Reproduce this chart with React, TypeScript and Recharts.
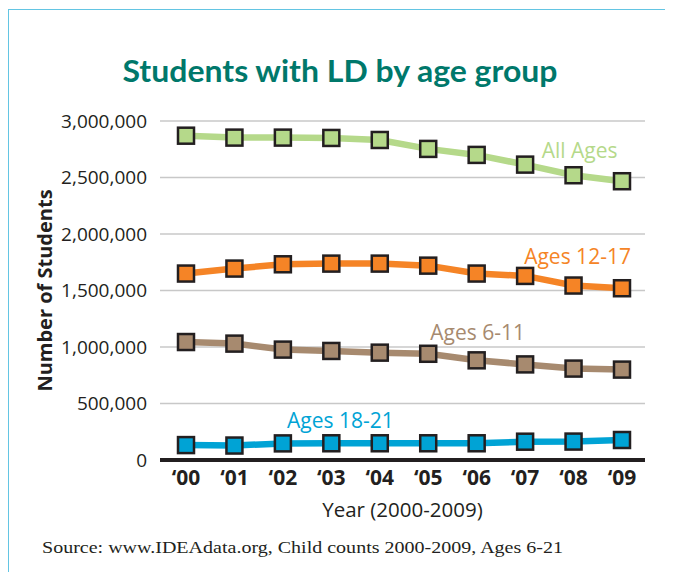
import React from 'react';
import { LineChart, Line, XAxis, YAxis, CartesianGrid, LabelList } from 'recharts';

const years = ['\u201800', '\u201801', '\u201802', '\u201803', '\u201804', '\u201805', '\u201806', '\u201807', '\u201808', '\u201809'];
const allAges = [2870000, 2853000, 2853000, 2850000, 2832000, 2753000, 2700000, 2614000, 2520000, 2467000];
const ages12to17 = [1650000, 1694000, 1732000, 1738000, 1738000, 1720000, 1650000, 1629000, 1544000, 1520000];
const ages6to11 = [1044000, 1030000, 977000, 965000, 950000, 940000, 882000, 846000, 809000, 800000];
const ages18to21 = [132000, 128000, 147000, 148000, 148000, 148000, 148000, 162000, 163000, 177000];
const yTicks = [0, 500000, 1000000, 1500000, 2000000, 2500000, 3000000];

const data = years.map((year, i) => ({
  year,
  all: allAges[i],
  a1217: ages12to17[i],
  a611: ages6to11[i],
  a1821: ages18to21[i],
}));

const GREEN = '#b5d98a';
const ORANGE = '#f58426';
const BROWN = '#a78a6f';
const BLUE = '#00a3d5';
const INK = '#231f20';
const SANS = '"Open Sans", Lato, sans-serif';

const squareDot = (color: string) => (p: any) => (
  <rect
    key={`dot-${p.index}`}
    x={p.cx - 8}
    y={p.cy - 8}
    width={16}
    height={16}
    fill={color}
    stroke={INK}
    strokeWidth={2.5}
  />
);

// name label drawn next to one chosen point of the series
const seriesName = (text: string, color: string, at: number, dx: number, dy: number) => (p: any) =>
  p.index === at ? (
    <text
      key={`name-${text}`}
      x={p.x + dx}
      y={p.y + dy}
      textAnchor="middle"
      dominantBaseline="central"
      fill={color}
      fontFamily={SANS}
      fontSize={21}
    >
      {text}
    </text>
  ) : null;

const fmt = (v: number) => v.toLocaleString('en-US');

export default function App() {
  return (
    <div style={{ position: 'relative', width: 664, height: 564, fontFamily: SANS }}>
      <div
        style={{
          position: 'absolute',
          left: 0,
          top: 1,
          width: 660,
          height: 563,
          borderTop: '1.5px solid #63c5e3',
          borderLeft: '1.5px solid #63c5e3',
          borderRight: '1.5px solid #63c5e3',
        }}
      />
      <svg width={664} height={564} style={{ position: 'absolute', left: 0, top: 0 }}>
        <text
          x={332}
          y={74}
          textAnchor="middle"
          fill="#00786b"
          fontFamily='Lato, "Open Sans", sans-serif'
          fontWeight={700}
          fontSize={31}
          textLength={435}
          lengthAdjust="spacingAndGlyphs"
        >
          Students with LD by age group
        </text>
        <text
          x={34}
          y={545}
          fill={INK}
          fontFamily='"Liberation Serif", serif'
          fontSize={17}
          textLength={521}
          lengthAdjust="spacingAndGlyphs"
        >
          Source: www.IDEAdata.org, Child counts 2000-2009, Ages 6-21
        </text>
      </svg>
      <div style={{ position: 'absolute', left: 0, top: 0 }}>
        <LineChart width={660} height={530} data={data} margin={{ top: 113, right: 23, bottom: 48, left: 0 }}>
          <CartesianGrid vertical={false} stroke="#c8c8c8" strokeWidth={1.3} />
          <XAxis
            dataKey="year"
            padding={{ left: 26, right: 23 }}
            axisLine={{ stroke: INK, strokeWidth: 4 }}
            tickLine={false}
            tickSize={0}
            tickMargin={10}
            height={30}
            tick={{ fill: INK, fontSize: 21, fontWeight: 700, fontFamily: SANS }}
            label={{ value: 'Year (2000-2009)', position: 'bottom', offset: 12, fill: INK, fontSize: 20.5, fontFamily: SANS }}
          />
          <YAxis
            domain={[0, 3000000]}
            ticks={yTicks}
            tickFormatter={fmt}
            width={152}
            axisLine={false}
            tickLine={false}
            tickSize={0}
            tickMargin={13}
            tick={{ fill: INK, fontSize: 19, fontFamily: SANS }}
            label={{
              value: 'Number of Students',
              angle: -90,
              position: 'insideLeft',
              offset: 37,
              fill: INK,
              fontSize: 20,
              fontWeight: 700,
              fontFamily: SANS,
              style: { textAnchor: 'middle' },
            }}
          />
          <Line dataKey="all" stroke={GREEN} strokeWidth={6.5} dot={squareDot(GREEN)} isAnimationActive={false}>
            <LabelList dataKey="all" content={seriesName('All Ages', GREEN, 8, 6, -25)} />
          </Line>
          <Line dataKey="a1217" stroke={ORANGE} strokeWidth={6.5} dot={squareDot(ORANGE)} isAnimationActive={false}>
            <LabelList dataKey="a1217" content={seriesName('Ages 12-17', ORANGE, 8, 4, -30)} />
          </Line>
          <Line dataKey="a611" stroke={BROWN} strokeWidth={6.5} dot={squareDot(BROWN)} isAnimationActive={false}>
            <LabelList dataKey="a611" content={seriesName('Ages 6-11', BROWN, 6, 1, -28)} />
          </Line>
          <Line dataKey="a1821" stroke={BLUE} strokeWidth={6.5} dot={squareDot(BLUE)} isAnimationActive={false}>
            <LabelList dataKey="a1821" content={seriesName('Ages 18-21', BLUE, 3, 9, -23)} />
          </Line>
        </LineChart>
      </div>
    </div>
  );
}
